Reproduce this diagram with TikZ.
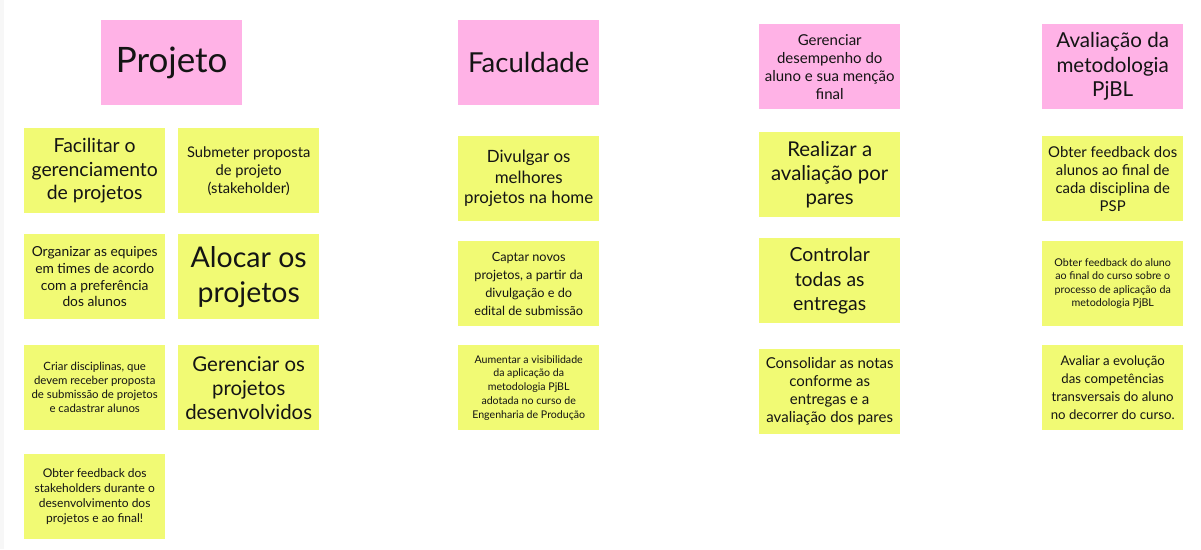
\documentclass[tikz,border=0pt]{standalone}
\usepackage{fontspec}
\setmainfont{Lato}
\definecolor{notepink}{RGB}{255,178,230}
\definecolor{noteyellow}{RGB}{241,250,116}
\definecolor{notetext}{RGB}{20,20,20}
\newcommand{\fsz}[2]{\fontsize{#1}{#2}\selectfont}
\begin{document}
\begin{tikzpicture}[x=1pt,y=-1pt,
  note/.style={rectangle, anchor=north west, minimum width=141pt, minimum height=85pt,
    inner sep=0pt, align=center, text=notetext},
  pinknote/.style={note, fill=notepink},
  yellownote/.style={note, fill=noteyellow},
]
\useasboundingbox (0,0) rectangle (1201,549);
\fill[white] (0,0) rectangle (1201,549);
\fill[black!3] (0,0) rectangle (4,549);

% Column 1: Projeto
\node[pinknote, font=\fsz{35}{40}] (projeto) at (101,20) {Projeto};
\node[yellownote, font=\fsz{19.4}{23.5}] (facilitar) at (24,128) {Facilitar o\\gerenciamento\\de projetos};
\node[yellownote, font=\fsz{14.7}{18}] (submeter) at (178,128) {Submeter proposta\\de projeto\\(stakeholder)};
\node[yellownote, font=\fsz{13.8}{16.7}] (organizar) at (24,234) {Organizar as equipes\\em times de acordo\\com a prefer\^encia\\dos alunos};
\node[yellownote, font=\fsz{28.5}{35}] (alocar) at (178,234) {Alocar os\\projetos};
\node[yellownote, font=\fsz{11.4}{14}] (criar) at (24,345) {Criar disciplinas, que\\devem receber proposta\\de submiss\~ao de projetos\\e cadastrar alunos};
\node[yellownote, font=\fsz{20.4}{24}] (gerproj) at (178,345) {Gerenciar os\\projetos\\desenvolvidos};
\node[yellownote, font=\fsz{12}{15}] (feedstake) at (24,454) {Obter feedback dos\\stakeholders durante o\\desenvolvimento dos\\projetos e ao final!};

% Column 2: Faculdade
\node[pinknote, font=\fsz{27.5}{32}] (faculdade) at (458,20) {Faculdade};
\node[yellownote, font=\fsz{16.9}{20.5}] (divulgar) at (458,136) {Divulgar os\\melhores\\projetos na home};
\node[yellownote, font=\fsz{12.7}{18}] (captar) at (458,241) {Captar novos\\projetos, a partir da\\divulga\c{c}\~ao e do\\edital de submiss\~ao};
\node[yellownote, font=\fsz{10.6}{13.8}] (aumentar) at (458,345) {Aumentar a visibilidade\\da aplica\c{c}\~ao da\\metodologia PjBL\\adotada no curso de\\Engenharia de Produ\c{c}\~ao};

% Column 3: Gerenciar desempenho
\node[pinknote, font=\fsz{15}{18}] (gerdes) at (759,24) {Gerenciar\\desempenho do\\aluno e sua men\c{c}\~ao\\final};
\node[yellownote, font=\fsz{20.4}{24}] (realizar) at (759,132) {Realizar a\\avalia\c{c}\~ao por\\pares};
\node[yellownote, font=\fsz{19.4}{24.5}] (controlar) at (759,238) {Controlar\\todas as\\entregas};
\node[yellownote, font=\fsz{15}{18}] (consolidar) at (759,349) {Consolidar as notas\\conforme as\\entregas e a\\avalia\c{c}\~ao dos pares};

% Column 4: Avaliacao
\node[pinknote, font=\fsz{20.6}{24.5}] (avaliacao) at (1042,24) {Avalia\c{c}\~ao da\\metodologia\\PjBL};
\node[yellownote, font=\fsz{14.9}{18}] (feedalunos) at (1042,136) {Obter feedback dos\\alunos ao final de\\cada disciplina de\\PSP};
\node[yellownote, font=\fsz{10.7}{13.5}] (feedaluno) at (1042,241) {Obter feedback do aluno\\ao final do curso sobre o\\processo de aplica\c{c}\~ao da\\metodologia PjBL};
\node[yellownote, font=\fsz{13.2}{18}] (avaliar) at (1042,345) {Avaliar a evolu\c{c}\~ao\\das compet\^encias\\transversais do aluno\\no decorrer do curso.};
\end{tikzpicture}
\end{document}
